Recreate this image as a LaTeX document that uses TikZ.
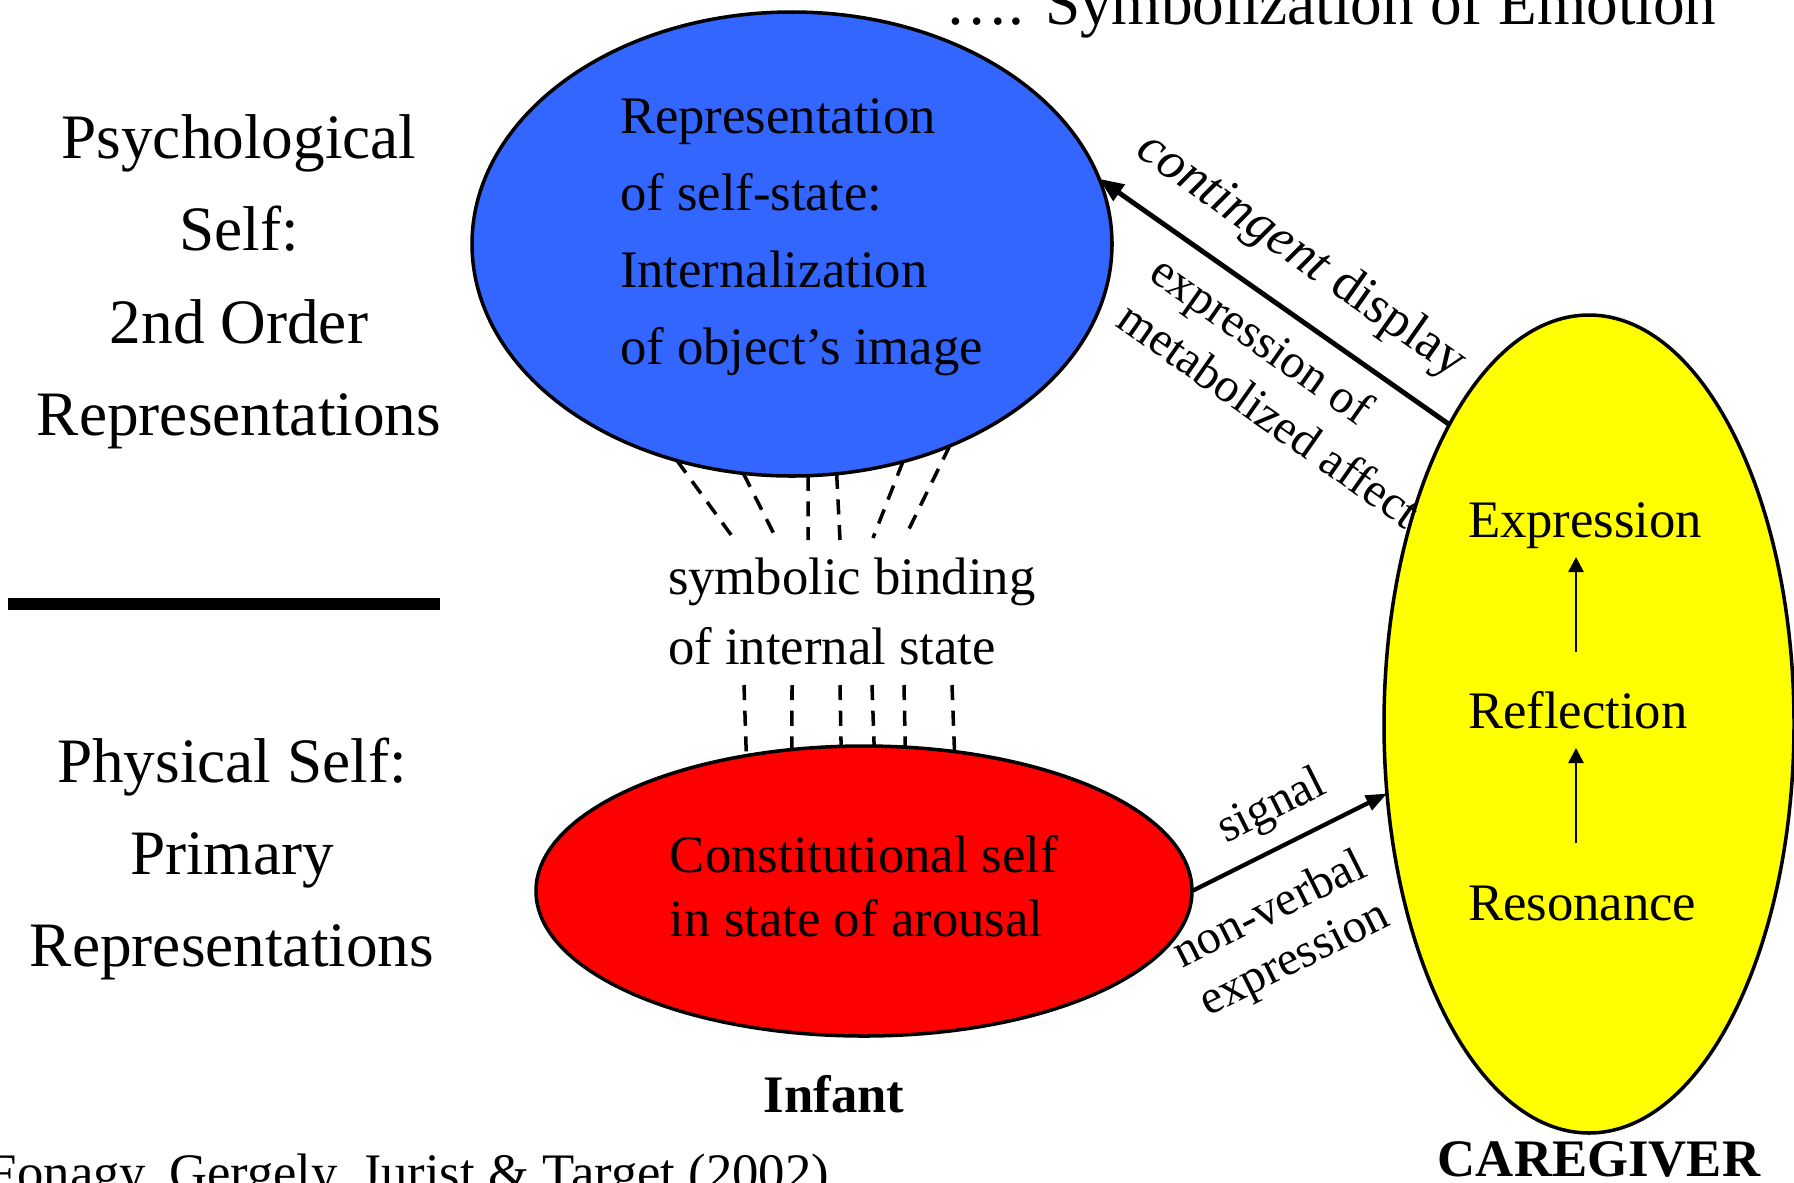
\documentclass[tikz,border=0pt]{standalone}
\usepackage{fontspec}
\setmainfont{Liberation Serif}
\usetikzlibrary{shapes.geometric,arrows.meta,positioning}
\definecolor{selfblue}{RGB}{51,102,255}
\definecolor{arousalred}{RGB}{255,0,0}
\definecolor{careyellow}{RGB}{255,255,0}

\begin{document}
\begin{tikzpicture}[x=0.1mm,y=-0.1mm]
	\tikzset{every node/.style={inner sep=0pt,outer sep=0pt}}
	\tikzset{self ellipse/.style={ellipse,draw,line width=1pt}}
	\tikzset{side label/.style={align=center,font=\fontsize{18}{26.2}\selectfont}}
	\tikzset{body text/.style={align=left,font=\fontsize{15}{21.9}\selectfont}}
	\tikzset{arrow label/.style={sloped,inner xsep=0pt,font=\fontsize{15}{17}\selectfont}}
	\tikzset{small label/.style={arrow label,font=\fontsize{13.7}{16.4}\selectfont}}
	\tikzset{binding/.style={line width=1pt,dash pattern=on 4.3pt off 3pt}}
	\tikzset{contingency/.style={line width=1.4pt,{Triangle[length=7pt,width=5.5pt]}-}}
	\tikzset{signalling/.style={line width=1.2pt,-{Triangle[length=6pt,width=4.5pt]}}}
	\tikzset{stage/.style={line width=0.75pt,-{Triangle[length=4.3pt,width=4.3pt]}}}
	\clip (0,0) rectangle (1794,1182);
	\node[self ellipse,fill=selfblue,minimum width=64mm,minimum height=46.4mm] (selfstate) at (792,244) {};
	\node[self ellipse,fill=arousalred,minimum width=65.6mm,minimum height=29mm,align=left,text depth=2.9pt,font=\fontsize{15}{18.2}\selectfont] (arousal) at (864,891) {Constitutional self\\in state of arousal};
	\node[self ellipse,fill=careyellow,minimum width=41mm,minimum height=81.8mm] (caregiver) at (1589,724) {};
	\node[side label,anchor=north] (psych) at (239,115) {Psychological\\Self:\\2nd Order\\Representations};
	\node[side label,anchor=north] (physical) at (232,738) {Physical Self:\\Primary\\Representations};
	\draw[line width=3.4pt] (8,604) -- (440,604);
	\node[body text,anchor=north west] (selfrep) at (620,99) {Representation\\of self-state:\\Internalization\\of object’s image};
	\node[body text,font=\fontsize{15}{19.9}\selectfont,anchor=north west] (symbolic) at (668,558) {symbolic binding\\of internal state};
	\node[font=\fontsize{15}{18}\selectfont\bfseries,anchor=base] (infant) at (834,1112) {Infant};
	\node[font=\fontsize{15}{18}\selectfont\bfseries,anchor=base] (carer) at (1599,1176) {CAREGIVER};
	\node[font=\fontsize{18}{22}\selectfont,anchor=base west] (title) at (945,24) {…. Symbolization of Emotion};
	\node[font=\fontsize{15}{18}\selectfont,anchor=base west] (source) at (-12,1190) {Fonagy, Gergely, Jurist \& Target (2002)};
	\node[font=\fontsize{15}{18}\selectfont,anchor=base west] (expr) at (1468,537) {Expression};
	\node[font=\fontsize{15}{18}\selectfont,anchor=base west] (reflect) at (1468,728) {Reflection};
	\node[font=\fontsize{15}{18}\selectfont,anchor=base west] (reson) at (1468,920) {Resonance};
	\draw[stage] ([shift={(108,-77)}]reson.base west) -- ([shift={(108,20)}]reflect.base west);
	\draw[stage] ([shift={(108,-76)}]reflect.base west) -- ([shift={(108,20)}]expr.base west);
	\foreach \a/\x/\y [count=\i] in {242.8/737/543,258/777/540,274/808/540,281.7/840/540,297/873/538,308.5/907/533}{
		\coordinate (up\i) at (\x,\y);
		\draw[binding] (selfstate.\a) -- (up\i);
	}
	\foreach \a/\x [count=\i] in {131.7/744,117/792,99.4/840,86.8/872,74.5/904,57.8/952}{
		\coordinate (down\i) at (\x,685);
		\draw[binding] (down\i) -- (arousal.\a);
	}
	\draw[contingency] (selfstate.12) -- (caregiver.115.5)
		node[arrow label,pos=0.49,anchor=south,inner ysep=8.1pt] {\textit{contingent} display}
		node[small label,pos=0.226,anchor=north west,align=left,inner ysep=5.6pt] {expression of\\metabolized affect};
	\draw[signalling] (arousal.east) -- (caregiver.199.8)
		node[small label,pos=0.5,anchor=south,inner ysep=4.7pt] {signal}
		node[small label,pos=0.28,anchor=north,align=center,font=\fontsize{13.7}{15.6}\selectfont,inner ysep=9pt] {non-verbal\\expression};
\end{tikzpicture}
\end{document}
